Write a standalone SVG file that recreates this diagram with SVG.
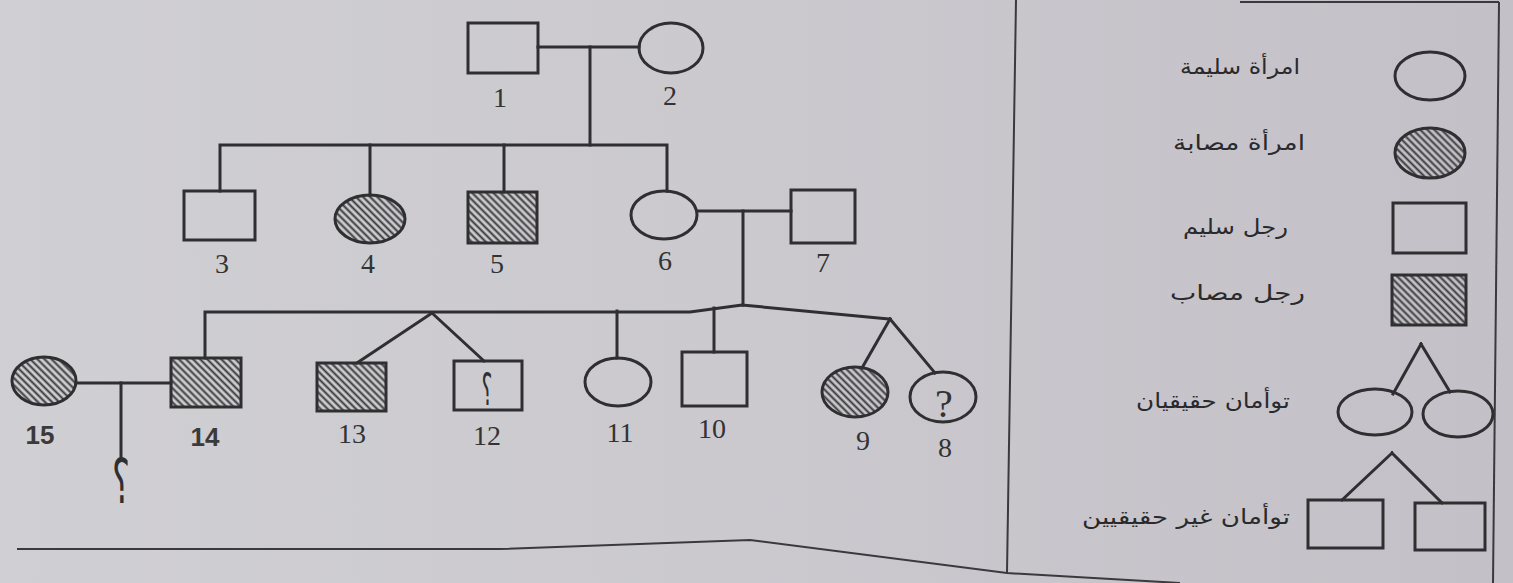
<svg xmlns="http://www.w3.org/2000/svg" width="1513" height="583" viewBox="0 0 1513 583">
<defs>
<linearGradient id="paper" x1="0" y1="0" x2="1" y2="0">
<stop offset="0" stop-color="#d0cfd3"/>
<stop offset="0.5" stop-color="#cbc9ce"/>
<stop offset="1" stop-color="#c3c1c7"/>
</linearGradient>
<pattern id="hatch" patternUnits="userSpaceOnUse" width="5" height="5" patternTransform="rotate(-45)">
<line x1="2.5" y1="-1" x2="2.5" y2="6" stroke="#3a3a3c" stroke-width="2"/>
</pattern>
<style>
.s{fill:none;stroke:#2f2f31;stroke-width:3}
.h{fill:url(#hatch);stroke:#2f2f31;stroke-width:3}
.c{fill:none;stroke:#2f2f31;stroke-width:3;stroke-linecap:square}
.f{fill:none;stroke:#3a3a3c;stroke-width:2}
.lb{font-family:"Liberation Serif",serif;font-size:28px;fill:#333;text-anchor:middle}
.lh{font-family:"Liberation Sans",sans-serif;font-size:26px;font-weight:bold;fill:#3a3a3a;text-anchor:middle}
.ar{font-family:"DejaVu Sans",sans-serif;font-size:21px;fill:#2a2a2c;text-anchor:end}
.q{font-family:"DejaVu Sans",sans-serif;fill:#2f2f31;text-anchor:middle}
</style>
</defs>
<rect x="0" y="0" width="1513" height="583" fill="url(#paper)"/>

<g id="frame">
<path class="f" d="M17,549 L500,549 L750,540 L1007,573 L1180,583"/>
<path class="f" d="M1016,0 L1007,573"/>
<path class="f" d="M1240,2 H1499"/>
<path class="f" d="M1499,2 L1493,583"/>
</g>

<g id="connectors">
<path class="c" d="M538,47 H639"/>
<path class="c" d="M590,47 V145"/>
<path class="c" d="M220,191 V145 H667 V191"/>
<path class="c" d="M370,145 V195"/>
<path class="c" d="M504,145 V192"/>
<path class="c" d="M697,211 H791"/>
<path class="c" d="M743,211 V305"/>
<path class="c" d="M205,358 V312 H690 L742,305 L890,319"/>
<path class="c" d="M617,311 V358"/>
<path class="c" d="M714,308 V352"/>
<path class="c" d="M432,313 L357,363"/>
<path class="c" d="M432,313 L484,361"/>
<path class="c" d="M890,319 L862,368"/>
<path class="c" d="M890,319 L935,373"/>
<path class="c" d="M76,383 H171"/>
<path class="c" d="M121,383 V457"/>
</g>

<g id="n1"><rect class="s" x="468" y="23" width="70" height="50"/><text class="lb" x="500" y="107">1</text></g>
<g id="n2"><ellipse class="s" cx="671" cy="48" rx="32" ry="25"/><text class="lb" x="670" y="105">2</text></g>
<g id="n3"><rect class="s" x="184" y="191" width="71" height="49"/><text class="lb" x="222" y="273">3</text></g>
<g id="n4"><ellipse class="h" cx="370" cy="219" rx="35" ry="24"/><text class="lb" x="368" y="273">4</text></g>
<g id="n5"><rect class="h" x="468" y="192" width="69" height="51"/><text class="lb" x="497" y="273">5</text></g>
<g id="n6"><ellipse class="s" cx="664" cy="215" rx="33" ry="24"/><text class="lb" x="665" y="270">6</text></g>
<g id="n7"><rect class="s" x="791" y="190" width="64" height="53"/><text class="lb" x="823" y="272">7</text></g>
<g id="n8"><ellipse class="s" cx="943" cy="397" rx="33" ry="25"/><text x="944" y="417" font-family="Liberation Serif, serif" font-size="40" fill="#333" text-anchor="middle">?</text><text class="lb" x="945" y="457">8</text></g>
<g id="n9"><ellipse class="h" cx="855" cy="392" rx="33" ry="25"/><text class="lb" x="863" y="450">9</text></g>
<g id="n10"><rect class="s" x="682" y="352" width="65" height="54"/><text class="lb" x="712" y="438">10</text></g>
<g id="n11"><ellipse class="s" cx="618" cy="382" rx="33" ry="24"/><text class="lb" x="620" y="442">11</text></g>
<g id="n12"><rect class="s" x="454" y="361" width="68" height="49"/><text class="q" font-size="34" transform="translate(487,405) scale(0.6,1.3)">؟</text><text class="lb" x="487" y="445">12</text></g>
<g id="n13"><rect class="h" x="317" y="363" width="69" height="48"/><text class="lb" x="352" y="443">13</text></g>
<g id="n14"><rect class="h" x="171" y="358" width="70" height="49"/><text class="lh" x="205" y="446">14</text></g>
<g id="n15"><ellipse class="h" cx="44" cy="381" rx="32" ry="24"/><text class="lh" x="40" y="444">15</text></g>
<g id="n16"><text class="q" font-size="48" transform="translate(121,503) scale(0.7,1.3)">؟</text></g>

<g id="legend">
<g id="lg-woman"><ellipse class="s" cx="1430" cy="76" rx="35" ry="24"/><text class="ar" x="1300" y="74" textLength="120" lengthAdjust="spacingAndGlyphs">امرأة سليمة</text></g>
<g id="lg-woman-aff"><ellipse class="h" cx="1430" cy="153" rx="35" ry="25"/><text class="ar" x="1305" y="150" textLength="132" lengthAdjust="spacingAndGlyphs">امرأة مصابة</text></g>
<g id="lg-man"><rect class="s" x="1393" y="203" width="73" height="50"/><text class="ar" x="1288" y="234" textLength="105" lengthAdjust="spacingAndGlyphs">رجل سليم</text></g>
<g id="lg-man-aff"><rect class="h" x="1392" y="275" width="74" height="50"/><text class="ar" x="1305" y="300" textLength="135" lengthAdjust="spacingAndGlyphs">رجل مصاب</text></g>
<g id="lg-id-twins">
<path class="c" d="M1421,344 L1393,394 M1421,344 L1450,392"/>
<ellipse class="s" cx="1375" cy="412" rx="37" ry="23"/>
<ellipse class="s" cx="1458" cy="414" rx="35" ry="23"/>
<text class="ar" x="1290" y="408" textLength="154" lengthAdjust="spacingAndGlyphs">توأمان حقيقيان</text>
</g>
<g id="lg-fr-twins">
<path class="c" d="M1392,453 L1342,500 M1392,453 L1442,503"/>
<rect class="s" x="1308" y="500" width="75" height="48"/>
<rect class="s" x="1415" y="503" width="70" height="47"/>
<text class="ar" x="1290" y="524" textLength="208" lengthAdjust="spacingAndGlyphs">توأمان غير حقيقيين</text>
</g>
</g>
</svg>
